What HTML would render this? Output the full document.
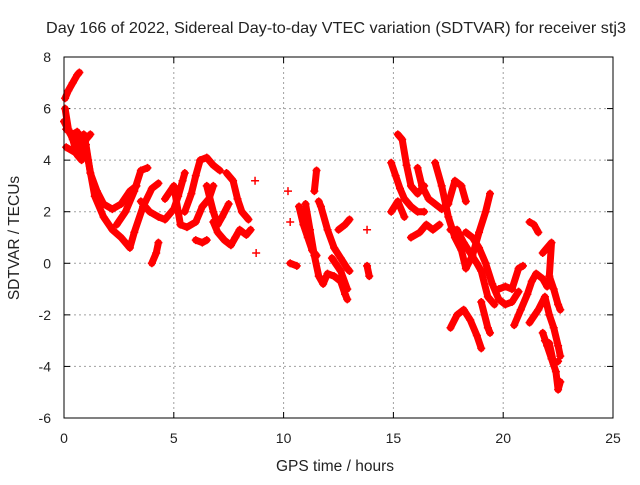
<!DOCTYPE html>
<html><head><meta charset="utf-8"><style>
body{margin:0;background:#fff}
svg text{font-family:"Liberation Sans",sans-serif;fill:#222}
</style></head><body>
<svg id="chart" width="640" height="480" xmlns="http://www.w3.org/2000/svg">
<rect width="640" height="480" fill="#fff"/>
<text x="336" y="33" font-size="16" text-anchor="middle" textLength="580" lengthAdjust="spacingAndGlyphs">Day 166 of 2022, Sidereal Day-to-day VTEC variation (SDTVAR) for receiver stj3</text>
<g id="grid"></g><g id="ticks"></g><g id="marks"></g>
<rect x="64" y="57" width="549" height="361" fill="none" stroke="#000" stroke-width="1"/>
<text x="335" y="471" font-size="15.5" text-anchor="middle">GPS time / hours</text>
<text x="19" y="238" font-size="15.5" text-anchor="middle" transform="rotate(-90 19 238)">SDTVAR / TECUs</text>
</svg>
<script>
const xTicks=[0,5,10,15,20,25];
const yTicks=[-6,-4,-2,0,2,4,6,8];
const tracks=[
[[0.05,6.4],[0.2,6.7],[0.4,7.0],[0.6,7.3],[0.7,7.4]],
[[0,5.5],[0.3,5.0],[0.6,4.7],[1.0,4.6],[1.2,3.5],[1.5,2.8],[1.8,2.3],[2.2,2.1],[2.6,2.3],[3.0,2.8],[3.3,3.0]],
[[0.1,4.5],[0.5,4.3],[0.9,5.0],[1.1,4.0],[1.4,2.6],[1.8,1.8],[2.2,1.3],[2.6,1.0],[3.0,0.6],[3.2,1.2],[3.6,2.2],[4.0,2.9],[4.3,3.1]],
[[0.05,6.0],[0.2,5.2],[0.4,4.8],[0.6,4.2],[0.8,4.0],[1.0,4.8],[1.2,5.0]],
[[0.1,5.2],[0.4,5.0],[0.6,5.1],[0.8,4.4]],
[[2.4,1.5],[2.8,2.0],[3.2,2.8],[3.5,3.6],[3.8,3.7]],
[[4.0,0.0],[4.2,0.4],[4.3,0.8]],
[[3.5,2.4],[3.9,2.0],[4.3,1.8],[4.6,1.7],[5.0,2.1],[5.2,2.6],[5.4,3.2],[5.5,3.5]],
[[4.6,2.5],[5.0,3.0],[5.3,1.5],[5.6,1.4],[6.0,1.6],[6.3,2.2],[6.6,2.5],[6.8,3.0]],
[[5.5,2.0],[5.8,2.7],[6.0,3.4],[6.2,4.0],[6.5,4.1],[6.8,3.8],[7.1,3.6]],
[[6.0,0.9],[6.3,0.8],[6.5,0.9]],
[[6.8,1.6],[7.0,1.2],[7.3,0.9],[7.6,0.7],[7.8,1.0],[8.0,1.3],[8.3,1.1],[8.5,1.3]],
[[7.4,3.5],[7.7,3.2],[7.9,2.5],[8.1,2.0],[8.4,1.7]],
[[6.5,3.0],[6.8,2.0],[7.0,1.5],[7.2,1.8],[7.5,2.3]],
[[8.7,3.2]],[[8.75,0.4]],
[[10.2,2.8]],[[10.3,1.6]],[[10.3,0.0],[10.6,-0.1]],
[[10.7,2.2],[10.9,1.5],[11.1,1.0],[11.3,0.5],[11.5,0.3]],
[[11.0,2.3],[11.2,1.3],[11.4,0.3],[11.6,-0.5],[11.8,-0.8],[12.0,-0.4],[12.3,-0.5],[12.6,-0.7],[12.8,-1.2],[12.9,-1.4]],
[[11.4,2.8],[11.5,3.6]],[[11.6,2.4],[11.7,2.2],[12.0,1.3],[12.3,0.6],[12.6,0.2],[12.9,-0.2],[13.0,-0.3]],
[[12.5,1.3],[12.8,1.5],[13.0,1.7]],
[[12.2,0.2],[12.6,-0.3],[12.9,-1.0]],
[[13.8,-0.1],[13.9,-0.5]],[[13.8,1.3]],
[[14.9,3.9],[15.1,3.4],[15.3,2.9],[15.5,2.5],[15.8,2.2],[16.1,2.0],[16.4,2.0]],
[[15.2,5.0],[15.4,4.8],[15.6,3.8],[15.8,3.0],[16.1,2.7],[16.4,3.0]],
[[14.9,2.0],[15.2,2.4],[15.5,1.8]],
[[15.8,1.0],[16.2,1.2],[16.5,1.5],[16.8,1.3],[17.1,1.5]],
[[16.1,3.7],[16.3,3.0],[16.6,2.5],[16.9,2.3],[17.2,2.1],[17.5,2.3],[17.8,3.2],[18.1,3.0],[18.3,2.4]],
[[16.9,3.9],[17.2,3.0],[17.5,1.8],[17.8,1.0],[18.1,0.5],[18.3,-0.2],[18.6,0.3],[18.9,1.2],[19.2,2.0],[19.4,2.7]],
[[17.6,1.3],[17.9,1.3],[18.2,0.8],[18.5,0.4],[18.8,0.0],[19.0,-0.3],[19.3,-1.3],[19.6,-1.6]],
[[17.6,-2.5],[17.9,-2.0],[18.2,-1.8],[18.5,-2.2],[18.8,-2.8],[19.0,-3.3]],
[[18.3,1.2],[18.6,1.0],[18.9,0.6],[19.2,0.0],[19.5,-0.8],[19.8,-1.4],[20.1,-1.6],[20.4,-1.5],[20.7,-1.1]],
[[19.0,-1.5],[19.3,-2.5],[19.4,-2.7]],
[[19.8,-1.0],[20.1,-0.9],[20.4,-1.0],[20.7,-0.2],[20.9,-0.1]],
[[20.5,-2.4],[20.8,-1.8],[21.1,-1.2],[21.3,-0.7],[21.5,-0.4],[21.8,-0.6],[22.0,-0.9]],
[[21.2,1.6],[21.4,1.5],[21.6,1.2]],
[[21.8,0.4],[22.0,0.6],[22.2,0.8],[22.1,-0.5],[22.3,-1.0],[22.5,-1.6],[22.6,-1.8]],
[[21.2,-2.3],[21.6,-1.8],[21.9,-1.3],[22.1,-2.0],[22.3,-2.5],[22.5,-3.2],[22.6,-3.6]],
[[21.8,-2.7],[22.0,-3.2],[22.2,-3.7],[22.4,-4.2],[22.5,-4.9],[22.6,-4.6]],
[[21.9,-3.0],[22.1,-3.1],[22.3,-3.9],[22.5,-3.8]]
];
const NS="http://www.w3.org/2000/svg";
const X=v=>64+v*549/25;
const Y=v=>418-(v+6)*361/14;
function mk(tag,at,parent){const e=document.createElementNS(NS,tag);for(const k in at)e.setAttribute(k,at[k]);parent.appendChild(e);return e;}
const grid=document.getElementById('grid'),ticks=document.getElementById('ticks'),marks=document.getElementById('marks');
xTicks.forEach(t=>{
  const x=X(t);
  if(t>0&&t<25){const g=mk('line',{x1:x,x2:x,y1:57,y2:418,stroke:'#a0a0a0','stroke-dasharray':'2,3'},grid);
  
  }
  mk('line',{x1:x,x2:x,y1:418,y2:412,stroke:'#000'},ticks);mk('line',{x1:x,x2:x,y1:57,y2:63,stroke:'#000'},ticks);
  const l=mk('text',{x:x,y:443,'font-size':14,'text-anchor':'middle'},ticks);l.textContent=t;
  
  
});
yTicks.forEach(t=>{
  const y=Y(t);
  if(t>-6&&t<8){const g=mk('line',{x1:64,x2:613,y1:y,y2:y,stroke:'#a0a0a0','stroke-dasharray':'2,3'},grid);
  
  }
  mk('line',{x1:64,x2:70,y1:y,y2:y,stroke:'#000'},ticks);mk('line',{x1:613,x2:607,y1:y,y2:y,stroke:'#000'},ticks);
  const l=mk('text',{x:51,y:y+5,'font-size':14,'text-anchor':'end'},ticks);l.textContent=t;
  
  
});
tracks.forEach(tr=>{
  const g=mk('g',{},marks);
  
  
  if(tr.length>1){mk('polyline',{points:tr.map(p=>X(p[0])+','+Y(p[1])).join(' '),fill:'none',stroke:'#f00','stroke-width':7,'stroke-linejoin':'round','stroke-linecap':'round'},g);}
  tr.forEach(p=>{const x=X(p[0]),y=Y(p[1]);
    mk('path',{d:`M${x-4},${y}H${x+4}M${x},${y-4}V${y+4}`,stroke:'#f00','stroke-width':1.5},g);});
});
</script>
</body></html>
